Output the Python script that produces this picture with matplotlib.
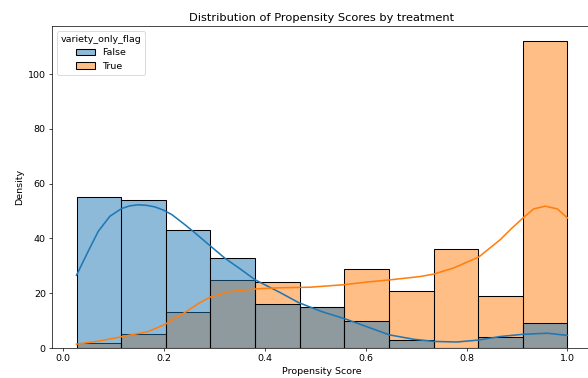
import matplotlib
matplotlib.use("Agg")
import matplotlib.pyplot as plt
import numpy as np
import pandas as pd
import seaborn as sns

# Histogram counts per bin (11 equal-width bins over the score range)
bin_range = (0.027, 1.0)
n_bins = 11
counts_false = [55, 54, 43, 33, 16, 15, 10, 3, 0, 4, 9]
counts_true = [2, 5, 13, 25, 24, 15, 29, 21, 36, 19, 112]

# KDE curves (scaled to counts)
kde_false_x = [0.027, 0.050, 0.070, 0.093, 0.116, 0.132, 0.149, 0.166, 0.183, 0.200,
               0.216, 0.242, 0.262, 0.292, 0.321, 0.352, 0.381, 0.430, 0.467, 0.513,
               0.560, 0.602, 0.647, 0.695, 0.735, 0.781, 0.824, 0.867, 0.912, 0.960, 1.0]
kde_false_y = [26.6, 35.3, 42.6, 48.1, 50.9, 51.9, 52.3, 52.1, 51.5, 50.3,
               48.7, 45.0, 42.0, 37.3, 32.8, 28.8, 24.9, 20.3, 16.6, 13.3,
               10.6, 7.8, 4.8, 3.2, 2.4, 2.2, 2.9, 4.2, 5.0, 5.4, 4.6]
kde_true_x = [0.027, 0.070, 0.116, 0.169, 0.202, 0.242, 0.270, 0.292, 0.331, 0.384,
              0.430, 0.490, 0.556, 0.603, 0.649, 0.708, 0.735, 0.774, 0.824, 0.867,
              0.890, 0.912, 0.933, 0.956, 0.980, 1.0]
kde_true_y = [1.4, 2.5, 4.1, 6.0, 8.6, 13.0, 16.4, 18.6, 20.6, 21.6,
              22.0, 22.2, 23.1, 24.1, 24.9, 26.1, 27.0, 29.2, 33.2, 39.6,
              43.8, 47.5, 50.8, 51.8, 50.8, 47.5]

width = (bin_range[1] - bin_range[0]) / n_bins
centers = [bin_range[0] + width * (i + 0.5) for i in range(n_bins)]

df = pd.DataFrame({
    "propensity_score": centers * 2,
    "count": counts_false + counts_true,
    "variety_only_flag": [False] * n_bins + [True] * n_bins,
})

plt.rcParams.update({
    "font.size": 10.8,
    "axes.titlesize": 13,
    "axes.labelsize": 10.8,
    "xtick.labelsize": 10.8,
    "ytick.labelsize": 10.8,
    "legend.fontsize": 10.8,
    "legend.title_fontsize": 10.8,
})

fig = plt.figure(figsize=(588 / 63, 378 / 63), dpi=63)
ax = fig.add_axes([52 / 588, 1 - 348 / 378, 540 / 588, 322 / 378])

sns.histplot(data=df, x="propensity_score", weights="count", hue="variety_only_flag",
             bins=n_bins, binrange=bin_range, ax=ax, linewidth=1.2)

palette = sns.color_palette()
ax.plot(kde_false_x, kde_false_y, color=palette[0], lw=1.8)
ax.plot(kde_true_x, kde_true_y, color=palette[1], lw=1.8)

sns.move_legend(ax, "upper left", title="variety_only_flag")

ax.set_title("Distribution of Propensity Scores by treatment")
ax.set_xlabel("Propensity Score")
ax.set_ylabel("Density")

fig.savefig("out.png", dpi=63)
